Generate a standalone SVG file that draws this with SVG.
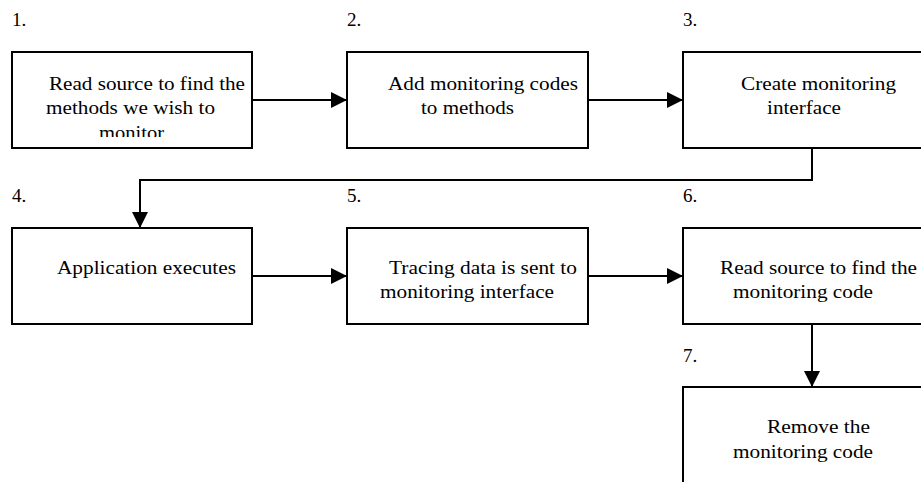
<svg xmlns="http://www.w3.org/2000/svg" width="921" height="482" viewBox="0 0 921 482">
  <style>
    .box { fill: #fff; stroke: #000; stroke-width: 2; }
    .lbl, .txt { font-family: "Liberation Serif", Tinos, "Times New Roman", Times, "DejaVu Serif", serif; font-size: 19px; fill: #000; }
    .link { fill: none; stroke: #000; stroke-width: 2; }
  </style>
  <defs>
    <marker id="arrow" markerUnits="userSpaceOnUse" markerWidth="16" markerHeight="16" viewBox="0 0 16 16" refX="16" refY="8" orient="auto">
      <path d="M0,0 L16,8 L0,16 Z" fill="#000"/>
    </marker>
    <clipPath id="clip1"><rect x="12" y="52" width="240" height="85"/></clipPath>
  </defs>
  <rect width="921" height="482" fill="#fff"/>

  <g id="connectors">
    <path class="link" d="M252,100 H347" marker-end="url(#arrow)"/>
    <path class="link" d="M588,100 H683" marker-end="url(#arrow)"/>
    <path class="link" d="M812,148 V180 H140 V228" marker-end="url(#arrow)"/>
    <path class="link" d="M252,276 H347" marker-end="url(#arrow)"/>
    <path class="link" d="M588,276 H683" marker-end="url(#arrow)"/>
    <path class="link" d="M812,324 V387" marker-end="url(#arrow)"/>
  </g>

  <g id="step1">
    <text class="lbl" x="12" y="26">1.</text>
    <rect class="box" x="12" y="52" width="240" height="96"/>
    <g clip-path="url(#clip1)">
      <text class="txt" x="49" y="90" textLength="196" lengthAdjust="spacingAndGlyphs">Read source to find the</text>
      <text class="txt" x="46" y="114" textLength="169" lengthAdjust="spacingAndGlyphs">methods we wish to</text>
      <text class="txt" x="99" y="139" textLength="65" lengthAdjust="spacingAndGlyphs">monitor</text>
    </g>
  </g>

  <g id="step2">
    <text class="lbl" x="347" y="26">2.</text>
    <rect class="box" x="347" y="52" width="241" height="96"/>
    <text class="txt" x="388" y="90" textLength="190" lengthAdjust="spacingAndGlyphs">Add monitoring codes</text>
    <text class="txt" x="421" y="114" textLength="93" lengthAdjust="spacingAndGlyphs">to methods</text>
  </g>

  <g id="step3">
    <text class="lbl" x="683" y="26">3.</text>
    <rect class="box" x="683" y="52" width="260" height="96"/>
    <text class="txt" x="741" y="90" textLength="155" lengthAdjust="spacingAndGlyphs">Create monitoring</text>
    <text class="txt" x="767" y="114" textLength="74" lengthAdjust="spacingAndGlyphs">interface</text>
  </g>

  <g id="step4">
    <text class="lbl" x="12" y="202">4.</text>
    <rect class="box" x="12" y="228" width="240" height="96"/>
    <text class="txt" x="57" y="274" textLength="179" lengthAdjust="spacingAndGlyphs">Application executes</text>
  </g>

  <g id="step5">
    <text class="lbl" x="347" y="202">5.</text>
    <rect class="box" x="347" y="228" width="241" height="96"/>
    <text class="txt" x="389" y="274" textLength="188" lengthAdjust="spacingAndGlyphs">Tracing data is sent to</text>
    <text class="txt" x="380" y="298" textLength="174" lengthAdjust="spacingAndGlyphs">monitoring interface</text>
  </g>

  <g id="step6">
    <text class="lbl" x="683" y="202">6.</text>
    <rect class="box" x="683" y="228" width="260" height="96"/>
    <text class="txt" x="720" y="274" textLength="197" lengthAdjust="spacingAndGlyphs">Read source to find the</text>
    <text class="txt" x="733" y="298" textLength="140" lengthAdjust="spacingAndGlyphs">monitoring code</text>
  </g>

  <g id="step7">
    <text class="lbl" x="683" y="362">7.</text>
    <rect class="box" x="683" y="387" width="260" height="120"/>
    <text class="txt" x="767" y="433" textLength="103" lengthAdjust="spacingAndGlyphs">Remove the</text>
    <text class="txt" x="733" y="458" textLength="140" lengthAdjust="spacingAndGlyphs">monitoring code</text>
  </g>
</svg>
